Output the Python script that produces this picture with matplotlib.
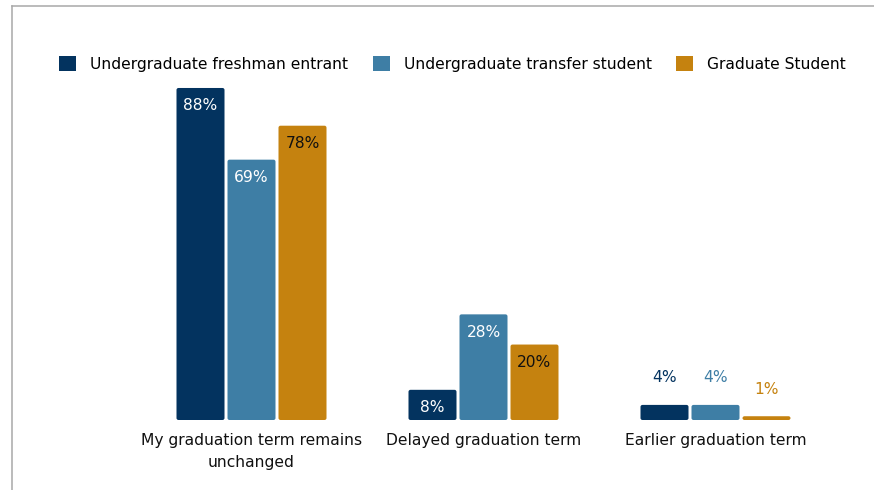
import matplotlib
matplotlib.use("Agg")
import matplotlib.pyplot as plt
from matplotlib.patches import FancyBboxPatch, Patch
from matplotlib.lines import Line2D

categories = ["My graduation term remains\nunchanged", "Delayed graduation term", "Earlier graduation term"]
series = ["Undergraduate freshman entrant", "Undergraduate transfer student", "Graduate Student"]
freshman = [88, 8, 4]
transfer = [69, 28, 4]
graduate = [78, 20, 1]
values = [freshman, transfer, graduate]
colors = ["#03335f", "#3e7ea5", "#c5820f"]
inside_text = ["white", "white", "#111111"]

W, H = 874, 490
fig = plt.figure(figsize=(W / 100, H / 100), dpi=100)
ax = fig.add_axes([0, 0, 1, 1])
px_x = 232.0          # pixels per category unit
px_y = 3.773          # pixels per percent
x0_px = 251.5
base_px = 70.0        # baseline from bottom
ax.set_xlim(-x0_px / px_x, (W - x0_px) / px_x)
ax.set_ylim(-base_px / px_y, (H - base_px) / px_y)
ax.axis("off")

fs = 11.2
bw = 48 / px_x
step = 51 / px_x
for si, (vals, col) in enumerate(zip(values, colors)):
    xs = [i + (si - 1) * step for i in range(len(categories))]
    bars = ax.bar(xs, vals, width=bw, color=col, label=series[si])
    for b, v in zip(bars, vals):
        b.set_visible(False)
        r = 2.0 / px_x
        p = FancyBboxPatch((b.get_x(), 0), b.get_width(), b.get_height(),
                           boxstyle=f"round,pad=0,rounding_size={r}",
                           mutation_aspect=px_x / px_y,
                           facecolor=col, edgecolor="none")
        ax.add_patch(p)
        cx = b.get_x() + b.get_width() / 2
        if v >= 8:
            ax.text(cx, v - 18 / px_y, f"{v}%", ha="center", va="center",
                    color=inside_text[si], fontsize=fs)
        else:
            ax.text(cx, v + 27 / px_y, f"{v}%", ha="center", va="center",
                    color=col, fontsize=fs)

for i, c in enumerate(categories):
    ax.text(i, -13 / px_y, c, ha="center", va="top", fontsize=fs, color="#111111",
            linespacing=1.62)

handles = [Patch(facecolor=c, edgecolor="none") for c in colors]
fig.legend(handles, series, loc="center", bbox_to_anchor=(452.5 / W, 1 - 64 / H),
           ncol=3, frameon=False, fontsize=fs, handlelength=1.1, handleheight=1.1,
           handletextpad=0.9, columnspacing=1.55)

# frame lines
fig.add_artist(Line2D([12 / W, 1], [1 - 6.5 / H] * 2, color="#a8a8a8", lw=1.1))
fig.add_artist(Line2D([12 / W] * 2, [0, 1 - 6.5 / H], color="#a8a8a8", lw=1.1))

fig.savefig("out.png", dpi=100)
